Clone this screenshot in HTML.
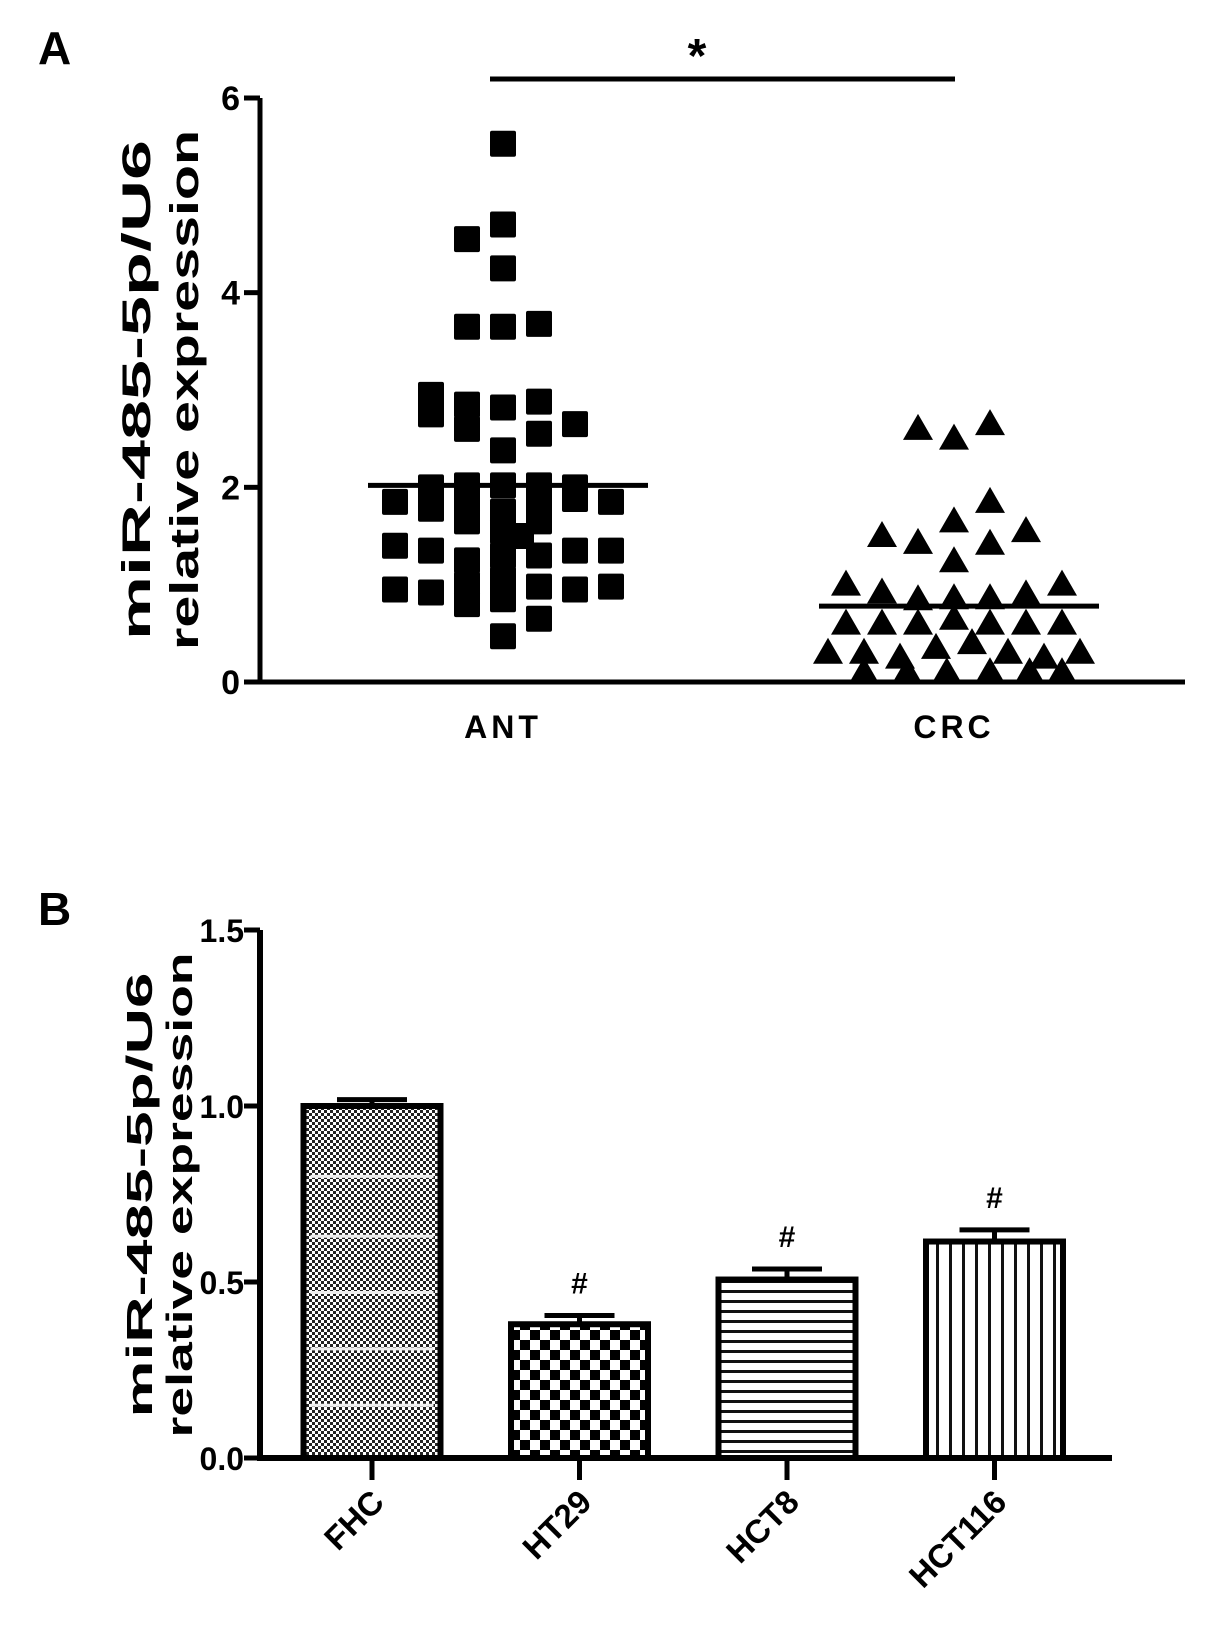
<!DOCTYPE html>
<html><head><meta charset="utf-8"><style>
html,body{margin:0;padding:0;background:#fff;}
svg{display:block;}
text{font-family:"Liberation Sans",sans-serif;font-weight:bold;fill:#000;}
</style></head><body>
<svg id="fig" width="1205" height="1650" viewBox="0 0 1205 1650" xmlns="http://www.w3.org/2000/svg">
<defs>
<pattern id="pDots" width="6" height="6" patternUnits="userSpaceOnUse"><rect width="6" height="6" fill="#fff"/><rect width="3" height="3" fill="#222"/><rect x="3" y="3" width="3" height="3" fill="#222"/></pattern>
<pattern id="pCheck" width="20" height="20" patternUnits="userSpaceOnUse"><rect width="20" height="20" fill="#fff"/><rect width="10" height="10" fill="#000"/><rect x="10" y="10" width="10" height="10" fill="#000"/></pattern>
<pattern id="pHor" width="10" height="10" patternUnits="userSpaceOnUse"><rect width="10" height="10" fill="#fff"/><rect y="0" width="10" height="3" fill="#111"/></pattern>
<pattern id="pVer" width="13" height="13" patternUnits="userSpaceOnUse"><rect width="13" height="13" fill="#fff"/><rect x="0" width="3" height="13" fill="#111"/></pattern>
</defs>
<g id="panelA"></g>
<g id="panelB"></g>
</svg>
<script>
// ---- Panel A data ----
const aGroups = ["ANT","CRC"];
const aTicks = [0,2,4,6];
const antValues = [5.53,4.7,4.55,4.25,3.65,3.65,3.68,2.95,2.75,2.85,2.82,2.88,2.65,2.6,2.55,2.38,2.0,2.02,2.02,2.02,2.0,1.85,1.78,1.88,1.75,1.85,1.88,1.85,1.65,1.55,1.5,1.65,1.4,1.35,1.25,1.3,1.3,1.35,1.35,0.95,0.92,1.0,1.05,0.98,0.95,0.98,0.8,0.85,0.65,0.47];
const antCols   = [0,0,-1,0,-1,0,1,-2,-2,-1,0,1,2,-1,1,0,-2,-1,0,1,2,-3,-2,-1,0,1,2,3,-1,0,0.5,1,-3,-2,-1,0,1,2,3,-3,-2,-1,0,1,2,3,-1,0,1,0];
const crcValues = [2.6,2.5,2.65,1.85,1.5,1.43,1.65,1.42,1.55,1.24,1.0,0.92,0.85,0.86,0.86,0.9,1.0,0.6,0.6,0.6,0.65,0.6,0.6,0.6,0.3,0.3,0.25,0.35,0.4,0.3,0.25,0.3,0.1,0.1,0.1,0.1,0.1,0.1];
const crcCols   = [-1,0,1,1,-2,-1,0,1,2,0,-3,-2,-1,0,1,2,3,-3,-2,-1,0,1,2,3,-3.5,-2.5,-1.5,-0.5,0.5,1.5,2.5,3.5,-2.5,-1.3,-0.2,1,2.1,3];
const aMeans = [2.02,0.78];
// ---- Panel B data ----
const bCats = ["FHC","HT29","HCT8","HCT116"];
const bValues = [1.0,0.38,0.507,0.615];
const bErrors = [0.018,0.025,0.03,0.033];
const bTicks = [0.0,0.5,1.0,1.5];
const bTickLabels = ["0.0","0.5","1.0","1.5"];
const bSig = ["","#","#","#"];

const NS="http://www.w3.org/2000/svg";
function mk(tag,attrs,parent,txt){const e=document.createElementNS(NS,tag);for(const k in attrs)e.setAttribute(k,attrs[k]);if(txt!==undefined)e.textContent=txt;parent.appendChild(e);return e;}

// Panel A
const A=document.getElementById('panelA');
const axX=260, y0A=682, y6A=98;
const yA=v=>y0A-(v/6)*(y0A-y6A);
const gx=[503,954]; const colW=36;
let t;
t=mk('text',{x:38,y:64,'font-size':46},A,'A');


let ax=mk('path',{d:`M${axX},${y6A} V${y0A} H1185`,stroke:'#000','stroke-width':5,fill:'none'},A);


aTicks.forEach(v=>{
  const tk=mk('line',{x1:axX-16,x2:axX,y1:yA(v),y2:yA(v),stroke:'#000','stroke-width':5},A);
  
  
  const tl=mk('text',{x:axX-20,y:yA(v)+12,'font-size':34,'text-anchor':'end'},A,String(v));
  
  
});
aGroups.forEach((g,i)=>{
  const tl=mk('text',{x:gx[i],y:738,'font-size':32,'text-anchor':'middle','letter-spacing':'4'},A,g);
  
  
});
let yt1=mk('text',{transform:'translate(150,390) rotate(-90)','text-anchor':'middle','font-size':40,textLength:500,lengthAdjust:'spacingAndGlyphs'},A,'miR-485-5p/U6');


let yt2=mk('text',{transform:'translate(198,390) rotate(-90)','text-anchor':'middle','font-size':40,textLength:520,lengthAdjust:'spacingAndGlyphs'},A,'relative expression');


antValues.forEach((v,i)=>{
  const cx=gx[0]+antCols[i]*colW, cy=yA(v);
  const r=mk('rect',{x:cx-13,y:cy-13,width:26,height:26,fill:'#000',rx:2},A);
  
  
});
crcValues.forEach((v,i)=>{
  const cx=gx[1]+crcCols[i]*colW, cy=yA(v);
  const p=mk('path',{d:`M${cx},${cy-15} L${cx+15},${cy+11} L${cx-15},${cy+11} Z`,fill:'#000'},A);
  
  
});
aMeans.forEach((m,i)=>{
  const l=mk('line',{x1:gx[i]-135,x2:gx[i]+145,y1:yA(m),y2:yA(m),stroke:'#000','stroke-width':5},A);
  
  
});
let sb=mk('line',{x1:490,x2:955,y1:79,y2:79,stroke:'#000','stroke-width':5},A);


let st=mk('text',{x:697,y:72,'font-size':48,'text-anchor':'middle'},A,'*');



// Panel B
const B=document.getElementById('panelB');
const y0B=1458, yTopB=930;
const yB=v=>y0B-(v/1.5)*(y0B-yTopB);
const bx0=372, bStep=207.5, bW=143;
const fills=['url(#pDots)','url(#pCheck)','url(#pHor)','url(#pVer)'];
t=mk('text',{x:38,y:925,'font-size':46},B,'B');


bValues.forEach((v,i)=>{
  const cx=bx0+i*bStep;
  const r=mk('rect',{x:cx-bW/2+3,y:yB(v),width:bW-6,height:y0B-yB(v),fill:fills[i],stroke:'#000','stroke-width':6},B);
  
  
  if(i===0){
    [0.15,0.31,0.47,0.63,0.8].forEach(f=>{
      const band=mk('line',{x1:cx-bW/2+10,x2:cx+bW/2-10,y1:yB(v*f),y2:yB(v*f),stroke:'#eee','stroke-width':3},B);
      
      
    });
  }
  const e=bErrors[i];
  const eb=mk('path',{d:`M${cx},${yB(v)} V${yB(v+e)} M${cx-35},${yB(v+e)} H${cx+35}`,stroke:'#000','stroke-width':5,fill:'none'},B);
  
  
  if(bSig[i]){
    const s=mk('text',{x:cx,y:yB(v+e)-22,'font-size':30,'font-weight':'normal','text-anchor':'middle'},B,bSig[i]);
    
    
  }
  const tk=mk('line',{x1:cx,x2:cx,y1:y0B,y2:y0B+22,stroke:'#000','stroke-width':5},B);
  
  
  const tl=mk('text',{transform:`translate(${cx+14},${y0B+46}) rotate(-45)`,'font-size':33,'text-anchor':'end'},B,bCats[i]);
  
  
});
let axb=mk('path',{d:`M${axX},${yTopB} V${y0B} H1112`,stroke:'#000','stroke-width':6,fill:'none'},B);


bTicks.forEach((v,i)=>{
  const tk=mk('line',{x1:axX-16,x2:axX,y1:yB(v),y2:yB(v),stroke:'#000','stroke-width':5},B);
  
  
  const tl=mk('text',{x:axX-16,y:yB(v)+12,'font-size':32,'text-anchor':'end'},B,bTickLabels[i]);
  
  
});
let ybt1=mk('text',{transform:'translate(152,1195) rotate(-90)','text-anchor':'middle','font-size':36,textLength:445,lengthAdjust:'spacingAndGlyphs'},B,'miR-485-5p/U6');


let ybt2=mk('text',{transform:'translate(192,1195) rotate(-90)','text-anchor':'middle','font-size':36,textLength:485,lengthAdjust:'spacingAndGlyphs'},B,'relative expression');


</script>
</body></html>
